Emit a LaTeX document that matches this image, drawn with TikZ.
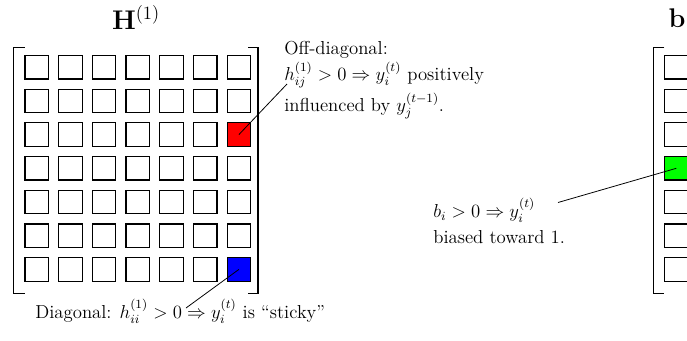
\documentclass[tikz,border=0pt]{standalone}
\usepackage{amsmath}
\begin{document}
\begin{tikzpicture}[x=0.64pt,y=-0.64pt,
  cell/.style={draw, line width=0.75pt, minimum size=15pt, inner sep=0pt},
  brk/.style={line width=0.7pt},
  conn/.style={line width=0.5pt},
  note/.style={inner sep=0pt, align=left, font=\large},
  ttl/.style={inner sep=0pt, font=\LARGE}]
\useasboundingbox (0,0) rectangle (687,340);
\clip (0,0) rectangle (687,340);
% H matrix cells
\foreach \r in {0,...,6}{
  \foreach \k in {0,...,6}{
    \node[cell] (c-\r-\k) at ({36.7+33.7*\k},{67.2+33.7*\r}) {};
  }
}
\node[cell, fill=red]  at (c-2-6) {};
\node[cell, fill=blue] at (c-6-6) {};
% H brackets
\draw[brk] (24.5,47.7) -- (13.5,47.7) -- (13.5,293.3) -- (24.5,293.3);
\draw[brk] (248,47.7) -- (258,47.7) -- (258,293.3) -- (248,293.3);
\node[ttl, anchor=base] (htitle) at (136,29.3) {$\mathbf{H}^{(1)}$};
% b vector
\foreach \r in {0,...,6}{
  \node[cell] (b-\r) at (676.3,{67.2+33.7*\r}) {};
}
\node[cell, fill=green] at (b-3) {};
\draw[brk] (664.3,47.7) -- (653.3,47.7) -- (653.3,293.3) -- (664.3,293.3);
\draw[brk] (688.3,47.7) -- (699.3,47.7) -- (699.3,293.3) -- (688.3,293.3);
\node[ttl, anchor=base] (btitle) at (677,27) {$\mathbf{b}$};
% notes
\node[note, anchor=north west] (offd) at (284,41)
  {Off-diagonal:\\[1.3pt] $h_{ij}^{(1)} > 0 \Rightarrow y_i^{(t)}$ positively\\[2pt] influenced by $y_j^{(t-1)}$.};
\node[note, anchor=base west] (diag) at (35,318.5)
  {Diagonal: $h_{ii}^{(1)} > 0 \Rightarrow y_i^{(t)}$ is ``sticky''};
\node[note, anchor=north west] (bias) at (433,198)
  {$b_i > 0 \Rightarrow y_i^{(t)}$\\[2.5pt] biased toward 1.};
\coordinate (offdend) at (287,84);
\coordinate (diagend) at (186,308);
\coordinate (biasend) at (558,202.5);
\draw[conn] (c-2-6.center) -- (offdend);
\draw[conn] (c-6-6.center) -- (diagend);
\draw[conn] (b-3.center) -- (biasend);
\end{tikzpicture}
\end{document}
